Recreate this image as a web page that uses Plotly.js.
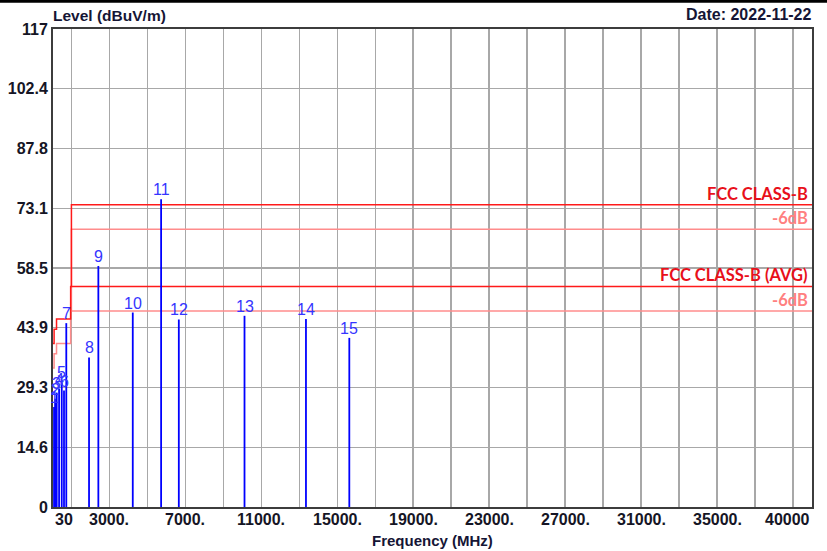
<!DOCTYPE html>
<html><head><meta charset="utf-8">
<script src="https://cdn.plot.ly/plotly-3.0.1.min.js"></script>
<style>html,body{margin:0;padding:0;background:#fff;}#chart{width:827px;height:551px;}</style>
</head><body><div id="chart"></div>
<script>
// ---- data ----
const markerIds   = ['1','2','3','4','5','6','7','8','9','10','11','12','13','14','15'];
const markerFreq  = [85, 140, 225, 350, 490, 610, 730, 1928, 2418, 4231, 5723, 6656, 10115, 13351, 15634];
const markerLevel = [24.5, 26.5, 28, 29, 30.5, 28.5, 45.0, 36.6, 59.0, 47.6, 75.3, 45.9, 46.8, 46.0, 41.4];

const limitFreq   = [30, 88, 216, 960, 1000, 40000];
const limitPeak   = [40, 43.5, 46, 54, 74, 74];
const limitPeak6  = [34, 37.5, 40, 48, 68, 68];
const avgFreq     = [1000, 40000];
const limitAvg    = [54, 54];
const limitAvg6   = [48, 48];

const yTickVals = [0, 14.6, 29.3, 43.9, 58.5, 73.1, 87.8, 102.4, 117];
const yTickText = ['0','14.6','29.3','43.9','58.5','73.1','87.8','102.4','117'];
const xTickVals = [30, 3000, 7000, 11000, 15000, 19000, 23000, 27000, 31000, 35000, 40000];
const xTickText = ['30','3000.','7000.','11000.','15000.','19000.','23000.','27000.','31000.','35000.','40000'];
const xGridVals = [1000,3000,5000,7000,9000,11000,13000,15000,17000,19000,21000,23000,25000,27000,29000,31000,33000,35000,37000,39000];

// ---- build ----
const RED = '#ff1a1a', PINK = '#ff8c8c', BLUE = '#0000ff';
const spikeX = [], spikeY = [];
markerFreq.forEach((f, i) => { spikeX.push(f, f, null); spikeY.push(0, markerLevel[i], null); });

const traces = [
  {x: limitFreq, y: limitPeak6, mode: 'lines', line: {color: PINK, width: 1.5, shape: 'hv'}, hoverinfo: 'skip'},
  {x: avgFreq, y: limitAvg6, mode: 'lines', line: {color: PINK, width: 1.5}, hoverinfo: 'skip'},
  {x: limitFreq, y: limitPeak, mode: 'lines', line: {color: RED, width: 1.5, shape: 'hv'}, hoverinfo: 'skip'},
  {x: avgFreq, y: limitAvg, mode: 'lines', line: {color: RED, width: 1.5}, hoverinfo: 'skip'},
  {x: spikeX, y: spikeY, mode: 'lines', line: {color: BLUE, width: 1.8}, hoverinfo: 'skip'}
];

const FONT = 'Liberation Sans, Arial, sans-serif';
const ann = [];
markerIds.forEach((t, i) => ann.push({
  x: markerFreq[i], y: markerLevel[i], xref: 'x', yref: 'y', text: t, showarrow: false,
  yanchor: 'bottom', yshift: -1, font: {family: FONT, size: 16, color: '#3535ff'}
}));
xTickVals.forEach((v, i) => ann.push({
  x: v, y: 0, xref: 'x', yref: 'paper', text: xTickText[i], showarrow: false,
  xanchor: i === 0 ? 'left' : (i === xTickVals.length - 1 ? 'right' : 'center'),
  yanchor: 'top', yshift: -2, font: {family: FONT, size: 16, color: '#151525', weight: 'bold'}
}));
const LFONT = 'Lato, Open Sans, sans-serif';
ann.push({x: 1, xref: 'paper', y: limitPeak[limitPeak.length-1], yref: 'y', text: '<b>FCC CLASS-B</b>', showarrow: false, xanchor: 'right', yanchor: 'bottom', xshift: -2, yshift: -1, font: {family: LFONT, size: 16.5, color: '#e8101a'}});
ann.push({x: 1, xref: 'paper', y: limitPeak6[limitPeak6.length-1], yref: 'y', text: '<b>-6dB</b>', showarrow: false, xanchor: 'right', yanchor: 'bottom', xshift: -2, yshift: -1, font: {family: LFONT, size: 16.5, color: '#ff8080'}});
ann.push({x: 1, xref: 'paper', y: limitAvg[0], yref: 'y', text: '<b>FCC CLASS-B (AVG)</b>', showarrow: false, xanchor: 'right', yanchor: 'bottom', xshift: -2, yshift: -1, font: {family: LFONT, size: 16.5, color: '#e8101a'}});
ann.push({x: 1, xref: 'paper', y: limitAvg6[0], yref: 'y', text: '<b>-6dB</b>', showarrow: false, xanchor: 'right', yanchor: 'bottom', xshift: -2, yshift: -1, font: {family: LFONT, size: 16.5, color: '#ff8080'}});
ann.push({x: 0, xref: 'paper', y: 1, yref: 'paper', text: '<b>Level (dBuV/m)</b>', showarrow: false, xanchor: 'left', yanchor: 'bottom', xshift: -2, yshift: 3, font: {family: FONT, size: 15.5, color: '#151535'}});
ann.push({x: 1, xref: 'paper', y: 1, yref: 'paper', text: '<b>Date: 2022-11-22</b>', showarrow: false, xanchor: 'right', yanchor: 'bottom', xshift: 2, yshift: 4, font: {family: FONT, size: 16, color: '#151535'}});
ann.push({x: 0.5, xref: 'paper', y: 0, yref: 'paper', text: '<b>Frequency (MHz)</b>', showarrow: false, xanchor: 'center', yanchor: 'top', yshift: -23, font: {family: FONT, size: 15, color: '#151535'}});

const layout = {
  width: 827, height: 551,
  margin: {l: 53, r: 15, t: 29, b: 44},
  paper_bgcolor: '#fff', plot_bgcolor: '#fff',
  showlegend: false,
  xaxis: {
    range: [30, 40000], tickmode: 'array', tickvals: xTickVals, showticklabels: false,
    showgrid: false, zeroline: false, showline: true, mirror: true, linecolor: '#3c3c3c', linewidth: 2, ticks: '',
    minor: {tickmode: 'array', tickvals: xGridVals, showgrid: true, gridcolor: '#a8a8a8', gridwidth: 1.5, ticks: ''}
  },
  yaxis: {
    range: [0, 117], tickmode: 'array', tickvals: yTickVals, ticktext: yTickText,
    showgrid: true, gridcolor: '#a8a8a8', gridwidth: 1.5, zeroline: false,
    showline: true, mirror: true, linecolor: '#3c3c3c', linewidth: 2, ticks: '',
    tickfont: {family: FONT, size: 16, color: '#151525', weight: 'bold'}
  },
  annotations: ann,
  shapes: [{type: 'line', xref: 'paper', yref: 'paper', x0: -0.07, x1: 1.02, y0: 1.058, y1: 1.058, line: {color: '#000', width: 3}}]
};
Plotly.newPlot('chart', traces, layout, {staticPlot: true, displayModeBar: false});
</script></body></html>
